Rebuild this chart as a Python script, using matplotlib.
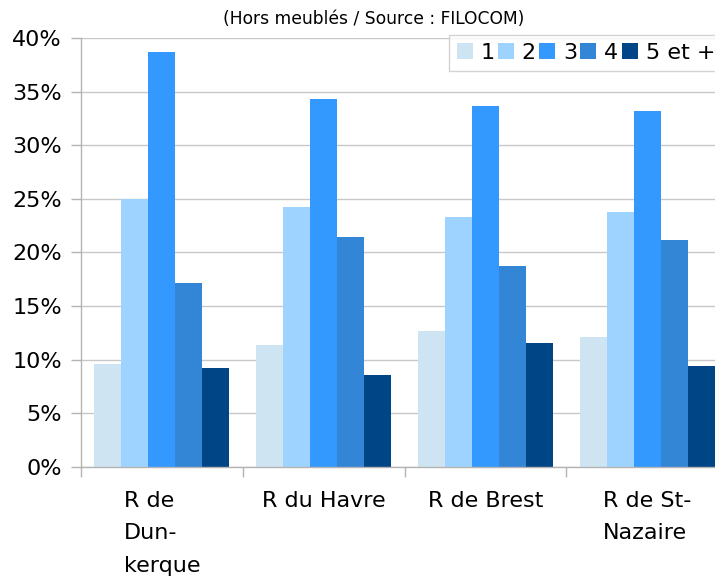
import matplotlib
matplotlib.use("Agg")
import matplotlib.pyplot as plt
import numpy as np
from matplotlib.ticker import FuncFormatter, FixedLocator

categories = ["R de\nDun-\nkerque", "R du Havre", "R de Brest", "R de St-\nNazaire"]
series_labels = ["1", "2", "3", "4", "5 et +"]
values = {
    "1": [9.6, 11.35, 12.65, 12.1],
    "2": [25.0, 24.2, 23.3, 23.8],
    "3": [38.7, 34.3, 33.7, 33.2],
    "4": [17.2, 21.4, 18.7, 21.2],
    "5 et +": [9.2, 8.6, 11.6, 9.4],
}
colors = ["#cfe4f3", "#9fd3ff", "#3399ff", "#3385d6", "#004586"]
title = "(Hors meublés / Source : FILOCOM)"

plt.rcParams['font.family'] = ['DejaVu Sans']
fig = plt.figure(figsize=(7.15, 5.76), dpi=100)
ax = fig.add_axes([81/715, 109/576, (728-81)/715, (467-38)/576])

n = len(series_labels)
bw = 0.167
x = np.arange(len(categories))
for i, s in enumerate(series_labels):
    offs = (i - (n - 1) / 2) * bw
    ax.bar(x + offs, values[s], width=bw, color=colors[i], label=s, zorder=2)

ax.set_xlim(-0.5, len(categories) - 0.5)
ax.set_ylim(0, 40)
ax.yaxis.set_major_locator(FixedLocator(np.arange(0, 41, 5)))
ax.yaxis.set_major_formatter(FuncFormatter(lambda v, p: f"{int(v)}%"))
ax.grid(axis='y', color='#c8c8c8', linewidth=1, zorder=0)
ax.set_axisbelow(True)

ax.xaxis.set_major_locator(FixedLocator(np.arange(-0.5, len(categories), 1.0)))
ax.xaxis.set_major_formatter(FuncFormatter(lambda v, p: ""))
ax.xaxis.set_minor_locator(FixedLocator(x))
ax.set_xticklabels(categories, minor=True, fontsize=16, linespacing=1.78,
                   multialignment='left', va='top')
ax.tick_params(axis='x', which='minor', length=0, pad=17)
ax.tick_params(axis='x', which='major', length=7.2, color='#b3b3b3', width=1)
ax.tick_params(axis='y', which='major', length=7.2, color='#b3b3b3', width=1,
               labelsize=16, pad=6.5)

for side in ['top', 'right']:
    ax.spines[side].set_visible(False)
for side in ['left', 'bottom']:
    ax.spines[side].set_color('#b3b3b3')
    ax.spines[side].set_linewidth(1)

fig.text(374/715, 1 - 19/576, title, ha='center', va='center', fontsize=12.3)

leg = fig.legend(loc='upper left', bbox_to_anchor=(449/715, 1 - 35/576), ncol=5,
                 fontsize=16, frameon=True, fancybox=False, handlelength=0.72,
                 handleheight=0.72, handletextpad=0.35, columnspacing=0.15,
                 borderpad=0.35, borderaxespad=0)
leg.get_frame().set_edgecolor('#c8c8c8')
leg.get_frame().set_linewidth(1)

fig.savefig("out.png", dpi=100)
